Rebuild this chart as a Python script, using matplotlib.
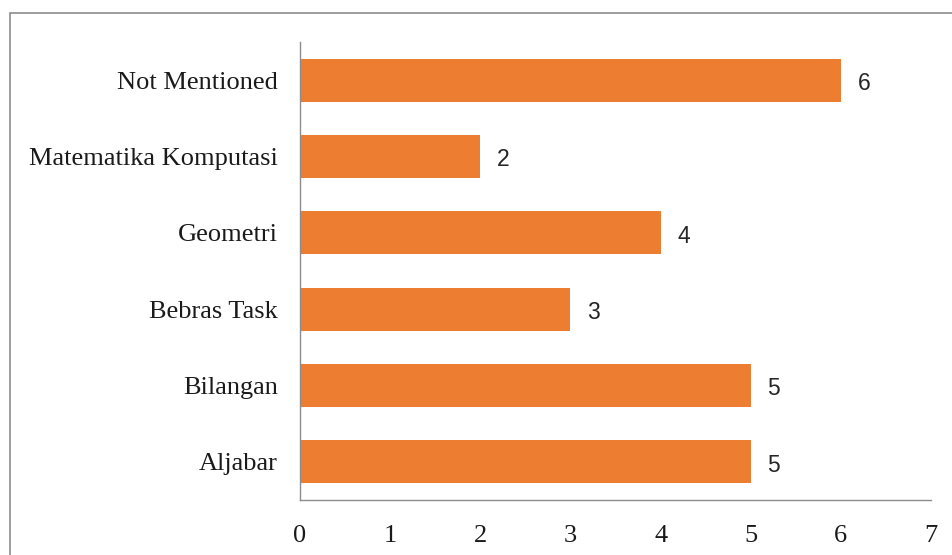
import matplotlib
matplotlib.use("Agg")
import matplotlib.pyplot as plt
from matplotlib.patches import Rectangle

# Topics of the reviewed studies and how many studies cover each
categories = ["Aljabar", "Bilangan", "Bebras Task", "Geometri",
              "Matematika Komputasi", "Not Mentioned"]
counts = [5, 5, 3, 4, 2, 6]
x_ticks = [0, 1, 2, 3, 4, 5, 6, 7]

BAR_COLOR = "#ED7D31"
AXIS_COLOR = "#8C8C8C"

fig = plt.figure(figsize=(9.52, 5.55), dpi=100)

# outer chart frame (runs off the right and bottom edges)
fig.patches.append(Rectangle((10 / 952, -0.1), 1.0, 1 - 13 / 555 + 0.1,
                             transform=fig.transFigure, fill=False,
                             edgecolor=AXIS_COLOR, lw=1.2))

ax = fig.add_axes([300 / 952, 1 - 500 / 555, 631 / 952, 458 / 555])
ypos = range(len(categories))
bars = ax.barh(ypos, counts, height=0.56, color=BAR_COLOR)

for y, v in zip(ypos, counts):
    ax.annotate(str(v), (v, y), xytext=(12, -2.5), textcoords="offset points",
                va="center", ha="left", fontsize=16.5,
                family="Liberation Sans", color="#262626")

ax.set_xlim(0, 7)
ax.set_ylim(-0.5, len(categories) - 0.5)
ax.set_xticks(x_ticks)
ax.set_yticks(list(ypos))
ax.set_yticklabels(categories)

for lab in ax.get_xticklabels() + ax.get_yticklabels():
    lab.set_family("Liberation Serif")
    lab.set_fontsize(19)
    lab.set_color("#1a1a1a")
ax.tick_params(length=0)
ax.tick_params(axis="x", pad=18)
ax.tick_params(axis="y", pad=16)

for side in ("top", "right"):
    ax.spines[side].set_visible(False)
for side in ("left", "bottom"):
    ax.spines[side].set_color(AXIS_COLOR)
    ax.spines[side].set_linewidth(1.0)

fig.savefig("out.png", dpi=100)
